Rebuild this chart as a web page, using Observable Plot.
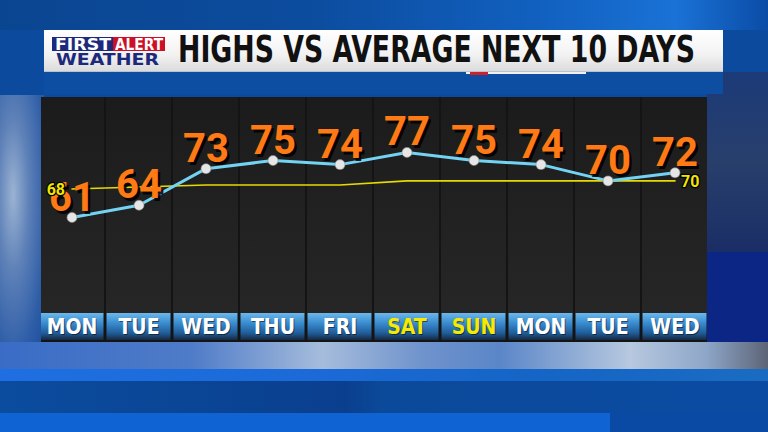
<!DOCTYPE html>
<html><head><meta charset="utf-8">
<script src="https://cdn.jsdelivr.net/npm/d3@7"></script>
<script src="https://cdn.jsdelivr.net/npm/@observablehq/plot@0.6"></script>
<style>
html,body{margin:0;padding:0;width:768px;height:432px;overflow:hidden;}
body{position:relative;background:#0c4a9e;font-family:"Liberation Sans",sans-serif;}
.abs{position:absolute;}
.fit{display:inline-block;white-space:nowrap;transform-origin:0 0;}
#chart svg{display:block;}
</style></head><body>
<!-- background -->
<div class="abs" style="left:0;top:0;width:768px;height:30px;background:linear-gradient(90deg,#0a4590 0%,#0c4c9e 40%,#1160bf 70%,#1a72d6 88%,#0b4ca6 100%);"></div>
<div class="abs" style="left:0;top:95px;width:44px;height:250px;background:radial-gradient(ellipse at 30% 40%,#9bb3d2 0%,#5f82b8 35%,#2f5ea8 75%,#1c4f9e 100%);"></div>
<div class="abs" style="left:707px;top:72px;width:61px;height:180px;background:linear-gradient(180deg,#1c3a78,#283f6c 50%,#1a2e66);"></div>
<div class="abs" style="left:707px;top:252px;width:61px;height:95px;background:#0b2684;"></div>
<div class="abs" style="left:0;top:342px;width:768px;height:27px;background:linear-gradient(90deg,#3a6cc6 0%,#4f7cc8 25%,#a6bcdc 42%,#6f93cc 55%,#5a86c8 65%,#b7c8df 82%,#8ea6c8 92%,#5c6476 100%);"></div>
<div class="abs" style="left:0;top:369px;width:768px;height:12px;background:linear-gradient(90deg,#1f6fe2,#1b6ad8 40%,#1565c6 70%,#1a6cc2 100%);"></div>
<div class="abs" style="left:0;top:381px;width:768px;height:32px;background:linear-gradient(90deg,#0b4c9e,#0a3f8e 45%,#0b4a9a 50%,#0b4ba2 100%);"></div>
<div class="abs" style="left:0;top:413px;width:610px;height:19px;background:#1063d2;"></div>
<div class="abs" style="left:610px;top:413px;width:158px;height:19px;background:#0a4aa4;"></div>

<!-- title bar -->
<div class="abs" style="left:44px;top:72px;width:679px;height:22px;background:#0d4ea2;"></div>
<div class="abs" style="left:44px;top:30px;width:679px;height:42px;background:linear-gradient(180deg,#ffffff 0%,#f2f2f2 60%,#dcdcdc 100%);border-bottom:1px solid #b9c3d0;box-sizing:border-box;"></div>
<div class="abs" style="left:466px;top:72px;width:120px;height:2px;background:#f0f0f0;"></div>
<div class="abs" style="left:470px;top:72px;width:18px;height:3px;background:#d2202a;"></div>
<div class="abs" style="left:52px;top:37px;width:61px;height:14px;background:#1d2a7c;"></div>
<div class="abs" style="left:113px;top:37px;width:52px;height:14px;background:#cc1025;"></div>
<div class="abs" style="left:55px;top:36px;"><span class="fit" id="first" style="font:700 15px 'DejaVu Sans',sans-serif;color:#fff;">FIRST</span></div>
<div class="abs" style="left:115px;top:36px;"><span class="fit" id="alert" style="font:700 15px 'DejaVu Sans',sans-serif;color:#fff;">ALERT</span></div>
<div class="abs" style="left:56px;top:50px;"><span class="fit" id="wx" style="font:700 16px 'DejaVu Sans',sans-serif;color:#1d2a7c;">WEATHER</span></div>
<div class="abs" style="left:178px;top:28px;"><span class="fit" id="title" style="font:700 37px 'Liberation Sans Narrow','DejaVu Sans Condensed',sans-serif;color:#111;">HIGHS VS AVERAGE NEXT 10 DAYS</span></div>

<div id="chart" class="abs" style="left:41px;top:97px;width:666px;height:245px;background:#141414;overflow:hidden;"></div>

<script>
const days = ["MON","TUE","WED","THU","FRI","SAT","SUN","MON","TUE","WED"];
const highs = [61,64,73,75,74,77,75,74,70,72];
const normals = [68,68.5,69,69,69,70,70,70,70,70];
const weekend = [false,false,false,false,false,true,true,false,false,false];
const normalLabels = ["68","70"];

const idx = d3.range(days.length);
const rows = idx.map(i => ({i, day: days[i], high: highs[i], avg: normals[i], weekend: weekend[i]}));
const last = rows.length - 1;

const numFont = "Roboto, 'DejaVu Sans', sans-serif";
const dayFont = "'Liberation Sans Narrow','DejaVu Sans Condensed',sans-serif";

const main = Plot.plot({
  width: 666, height: 216, margin: 0,
  x: {type: "band", domain: idx, range: [-4, 668], padding: 0, axis: null},
  y: {domain: [37.4, 90.5], range: [216, 0], axis: null},
  color: {type: "identity"},
  style: {background: "transparent", overflow: "hidden"},
  marks: [
    Plot.cell(idx, {x: d => d, fill: "url(#colGrad)", insetLeft: 1, insetRight: 1}),
    Plot.line(rows, {x: "i", y: "avg", stroke: "#e6da00", strokeWidth: 1.6}),
    Plot.line(rows, {x: "i", y: "high", stroke: "#74d3f2", strokeWidth: 3}),
    Plot.dot(rows, {x: "i", y: "high", r: 5, fill: "#e6e6e6", stroke: "#8a8a8a", strokeWidth: 0.6}),
    Plot.text(rows, {x: "i", y: "high", text: d => String(d.high), lineAnchor: "bottom", dx: 2.5, dy: -4, fill: "#000", fillOpacity: 0.85, fontSize: 40, fontWeight: 700, fontFamily: numFont}),
    Plot.text(rows, {x: "i", y: "high", text: d => String(d.high), lineAnchor: "bottom", dy: -7, fill: "#ff7a14", fontSize: 40, fontWeight: 700, fontFamily: numFont}),
    Plot.text([rows[0]], {x: "i", y: "avg", text: () => normalLabels[0], textAnchor: "end", dx: -7, dy: 1, fill: "#f2e600", stroke: "#000", strokeWidth: 2.5, fontSize: 16, fontWeight: 700, fontFamily: numFont}),
    Plot.text([rows[last]], {x: "i", y: "avg", text: () => normalLabels[1], textAnchor: "start", dx: 6, dy: 1, fill: "#f2e600", stroke: "#000", strokeWidth: 2.5, fontSize: 16, fontWeight: 700, fontFamily: numFont})
  ]
});

const strip = Plot.plot({
  width: 666, height: 29, margin: 0,
  x: {type: "band", domain: idx, range: [-4, 668], padding: 0, axis: null},
  color: {type: "identity"},
  style: {background: "transparent", overflow: "hidden"},
  marks: [
    Plot.cell(idx, {x: d => d, fill: "url(#stripGrad)", insetLeft: 1.5, insetRight: 1.5, insetBottom: 2}),
    Plot.text(rows, {x: "i", text: "day", frameAnchor: "middle", dy: 0, fill: "#000", fillOpacity: 0.5, dx: 1, fontSize: 21, fontWeight: 700, fontFamily: dayFont}),
    Plot.text(rows, {x: "i", text: "day", frameAnchor: "middle", dy: -1, fill: d => d.weekend ? "#f6ea00" : "#ffffff", fontSize: 21, fontWeight: 700, fontFamily: dayFont})
  ]
});

function addGrad(svg, id, stops) {
  let defs = d3.select(svg).select("defs");
  if (defs.empty()) defs = d3.select(svg).insert("defs", ":first-child");
  const g = defs.append("linearGradient").attr("id", id).attr("x1", 0).attr("y1", 0).attr("x2", 0).attr("y2", 1);
  stops.forEach(([o, c]) => g.append("stop").attr("offset", o).attr("stop-color", c));
}
addGrad(main, "colGrad", [[0, "#1b1b1b"], [0.5, "#212121"], [1, "#262626"]]);
addGrad(strip, "stripGrad", [[0, "#6cb8ea"], [0.35, "#3c8fd2"], [0.75, "#1f5c98"], [1, "#17283e"]]);

document.getElementById("chart").append(main, strip);

function fit(id, w) {
  const el = document.getElementById(id);
  const r = el.getBoundingClientRect().width;
  el.style.transform = `scaleX(${w / r})`;
}
fit("first", 56); fit("alert", 48); fit("wx", 103); fit("title", 517);
</script>
</body></html>
